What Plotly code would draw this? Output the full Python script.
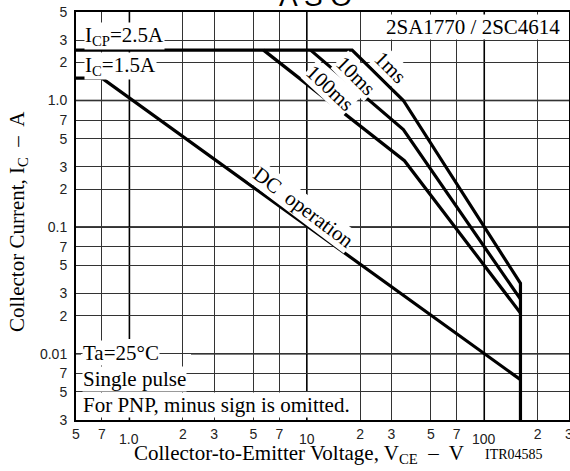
import math
import plotly.graph_objects as go

# ---- data (VCE in V, IC in A) ----
v_1ms = [0.5, 18, 35, 160, 160]
i_1ms = [2.5, 2.5, 1.0, 0.036, 0.003]
v_10ms = [10.5, 35, 160]
i_10ms = [2.5, 0.59, 0.027]
v_100ms = [5.7, 35.5, 160]
i_100ms = [2.5, 0.335, 0.021]
v_dc = [0.5, 0.7, 160]
i_dc = [1.5, 1.5, 0.00625]

x_tickvals = [0.5, 0.7, 2, 3, 5, 7, 20, 30, 50, 70, 200, 300]
x_ticktext = ["5", "7", "2", "3", "5", "7", "2", "3", "5", "7", "2", "3"]
x_major = [1, 10, 100]
x_major_text = ["1.0", "10", "100"]
y_tickvals = [5, 3, 2, 1, 0.7, 0.5, 0.3, 0.2, 0.1, 0.07, 0.05, 0.03, 0.02,
              0.01, 0.007, 0.005, 0.003]
y_ticktext = ["5", "3", "2", "1.0", "7", "5", "3", "2", "0.1", "7", "5", "3", "2",
              "0.01", "7", "5", "3"]
y_major = [1, 0.1, 0.01]

W, H = 570, 471
L, R, T, B = 76, 1, 12, 51
PW, PH = W - L - R, H - T - B


def px(x):
    return (x - L) / PW


def py(y):
    return (H - B - y) / PH


SERIF = "Liberation Serif"
SANS = "Liberation Sans"

fig = go.Figure()
line = dict(color="black", width=3.2)
for v, i in [(v_1ms, i_1ms), (v_10ms, i_10ms), (v_100ms, i_100ms), (v_dc, i_dc)]:
    fig.add_trace(go.Scatter(x=v, y=i, mode="lines", line=line,
                             showlegend=False, hoverinfo="skip"))

shapes = []
for xv in x_major:
    shapes.append(dict(type="line", xref="x", yref="paper", x0=xv, x1=xv, y0=0, y1=1,
                       line=dict(color="black", width=1.6), layer="between"))
for yv in y_major:
    shapes.append(dict(type="line", xref="paper", yref="y", x0=0, x1=1, y0=yv, y1=yv,
                       line=dict(color="black", width=1.6), layer="between"))
# white blank regions behind lower-left notes
shapes.append(dict(type="rect", xref="paper", yref="paper", x0=px(81), x1=px(191),
                   y0=py(391), y1=py(339), fillcolor="white", line=dict(width=0),
                   layer="between"))
shapes.append(dict(type="rect", xref="paper", yref="paper", x0=px(81), x1=px(361),
                   y0=py(417), y1=py(392), fillcolor="white", line=dict(width=0),
                   layer="between"))

ann = []
for xv, t in zip(x_major, x_major_text):
    ann.append(dict(x=math.log10(xv), xref="x", y=0, yref="paper", text=t,
                    showarrow=False, yanchor="top", yshift=-9,
                    font=dict(family=SANS, size=14, color="#222")))


def note(text, x, y, size=21, xanchor="left", angle=0, bg="white"):
    a = dict(x=px(x), y=py(y), xref="paper", yref="paper", text=text,
             showarrow=False, xanchor=xanchor, yanchor="middle",
             textangle=angle, borderpad=0,
             font=dict(family=SERIF, size=size, color="black"))
    if bg:
        a["bgcolor"] = bg
    ann.append(a)


note("I<sub>CP</sub>=2.5A", 84, 36)
note("I<sub>C</sub>=1.5A", 84, 66)
note("2SA1770 / 2SC4614", 561, 27, xanchor="right")
note("Ta=25°C", 82, 353)
note("Single pulse", 82, 379)
note("For PNP, minus sign is omitted.", 82, 405)
note("DC  operation", 303, 207, xanchor="center", angle=37)
note("1ms", 390, 67, xanchor="center", angle=45)
note("10ms", 356, 76, xanchor="center", angle=45)
note("100ms", 330, 88, xanchor="center", angle=43)
note("Collector-to-Emitter Voltage, V<sub>CE</sub>  –  V", 299, 454, size=21,
     xanchor="center", bg=None)
note("ITR04585", 514, 455, size=14, xanchor="center", bg=None)
ann.append(dict(x=px(18), y=py(222), xref="paper", yref="paper",
                text="Collector Current, I<sub>C</sub>  –  A", showarrow=False,
                xanchor="center", yanchor="middle", textangle=-90,
                font=dict(family=SERIF, size=21, color="black")))
ann.append(dict(x=px(315), y=py(14), xref="paper", yref="paper", text="A S O",
                showarrow=False, xanchor="center", yanchor="bottom",
                font=dict(family=SANS, size=28, color="black")))

fig.update_layout(
    width=W, height=H,
    margin=dict(l=L, r=R, t=T, b=B, autoexpand=False),
    paper_bgcolor="white", plot_bgcolor="white",
    shapes=shapes, annotations=ann,
    xaxis=dict(type="log", range=[math.log10(0.5), math.log10(300.4)],
               tickvals=x_tickvals, ticktext=x_ticktext, ticks="",
               automargin=False, ticklabeloverflow="allow",
               showgrid=True, gridcolor="#333", gridwidth=1,
               showline=True, linecolor="black", linewidth=2, mirror=True,
               zeroline=False,
               tickfont=dict(family=SANS, size=14, color="#222")),
    yaxis=dict(type="log", range=[math.log10(0.003), math.log10(5)],
               tickvals=y_tickvals, ticktext=y_ticktext, ticks="",
               automargin=False, ticklabelstandoff=4,
               showgrid=True, gridcolor="#333", gridwidth=1,
               showline=True, linecolor="black", linewidth=2, mirror=True,
               zeroline=False,
               tickfont=dict(family=SANS, size=14, color="#222")),
)

fig.write_html("out.html",
               config={"displayModeBar": False},
               post_script="document.body.style.margin='0';"
                           "document.body.style.overflow='hidden';")
